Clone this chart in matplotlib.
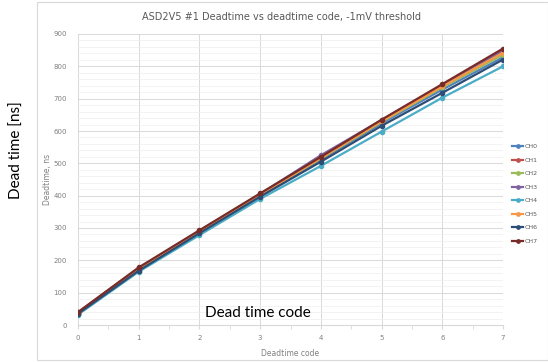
import numpy as np
import matplotlib
matplotlib.use("Agg")
from matplotlib import pyplot as plt
from matplotlib.patches import Rectangle

codes = [0, 1, 2, 3, 4, 5, 6, 7]
channels = ['CH0', 'CH1', 'CH2', 'CH3', 'CH4', 'CH5', 'CH6', 'CH7']
deadtime = {
    'CH0': [35, 170, 286, 399, 512, 624, 728, 828],
    'CH1': [38, 176, 290, 404, 518, 632, 740, 850],
    'CH2': [36, 173, 288, 402, 515, 628, 735, 836],
    'CH3': [38, 175, 291, 405, 525, 634, 742, 848],
    'CH4': [32, 165, 278, 390, 492, 598, 703, 800],
    'CH5': [37, 174, 289, 403, 516, 630, 738, 842],
    'CH6': [35, 168, 284, 397, 505, 616, 718, 821],
    'CH7': [40, 178, 293, 407, 520, 635, 745, 855],
}
colors = ['#4F81BD', '#C0504D', '#9BBB59', '#8064A2', '#4BACC6', '#F79646', '#2C4D75', '#772C2A']

fig = plt.figure(figsize=(5.48, 3.62), dpi=100)
fig.patches.append(Rectangle((37/548, 2/362), 1 - 37/548, 1 - 4/362, transform=fig.transFigure,
                             fill=False, edgecolor='#d9d9d9', lw=0.8))

ax = fig.add_axes([78/548, 1 - 325/362, (503 - 78)/548, (325 - 34)/362])
for ch, c in zip(channels, colors):
    ax.plot(codes, deadtime[ch], color=c, lw=1.6, marker='o', ms=3, label=ch)

ax.set_xlim(0, 7)
ax.set_ylim(0, 900)
ax.set_xticks(range(8))
ax.set_xticks(np.arange(0.5, 7, 1), minor=True)
ax.set_yticks(range(0, 901, 100))
ax.set_yticks(range(0, 901, 20), minor=True)
ax.grid(which='major', color='#d9d9d9', lw=0.7)
ax.grid(which='minor', axis='y', color='#eeeeee', lw=0.5)
ax.set_axisbelow(True)
for s in ['top', 'right', 'left']:
    ax.spines[s].set_visible(False)
ax.spines['bottom'].set_color('#d9d9d9')
ax.tick_params(axis='y', length=0, labelsize=5, labelcolor='#808080', pad=8)
ax.tick_params(axis='x', which='both', length=3, color='#d9d9d9', labelsize=5, labelcolor='#808080', pad=4)
ax.tick_params(axis='y', which='minor', length=0)
ax.set_xlabel('Deadtime code', fontsize=5.5, color='#808080', labelpad=6)
ax.set_ylabel('Deadtime, ns', fontsize=5.5, color='#808080')
ax.yaxis.set_label_coords(-26/425, 0.5)

fig.text(282/548, 1 - 17/362, 'ASD2V5 #1 Deadtime vs deadtime code, -1mV threshold',
         ha='center', va='center', fontsize=7, color='#595959')

ax.legend(loc='upper left', bbox_to_anchor=(512/548, 1 - 144/362), bbox_transform=fig.transFigure,
          frameon=False, fontsize=4.5, labelcolor='#595959', handlelength=1.8, handletextpad=0.2,
          labelspacing=1.3, markerscale=0.8, borderpad=0, borderaxespad=0)

fig.text(17/548, 1 - 150/362, 'Dead time [ns]', rotation=90, ha='center', va='center',
         fontsize=11, family=['Lato', 'DejaVu Sans'])
fig.text(258/548, 1 - 313/362, 'Dead time code', ha='center', va='center',
         fontsize=11, family=['Lato', 'DejaVu Sans'])

fig.savefig('out.png', dpi=100)
